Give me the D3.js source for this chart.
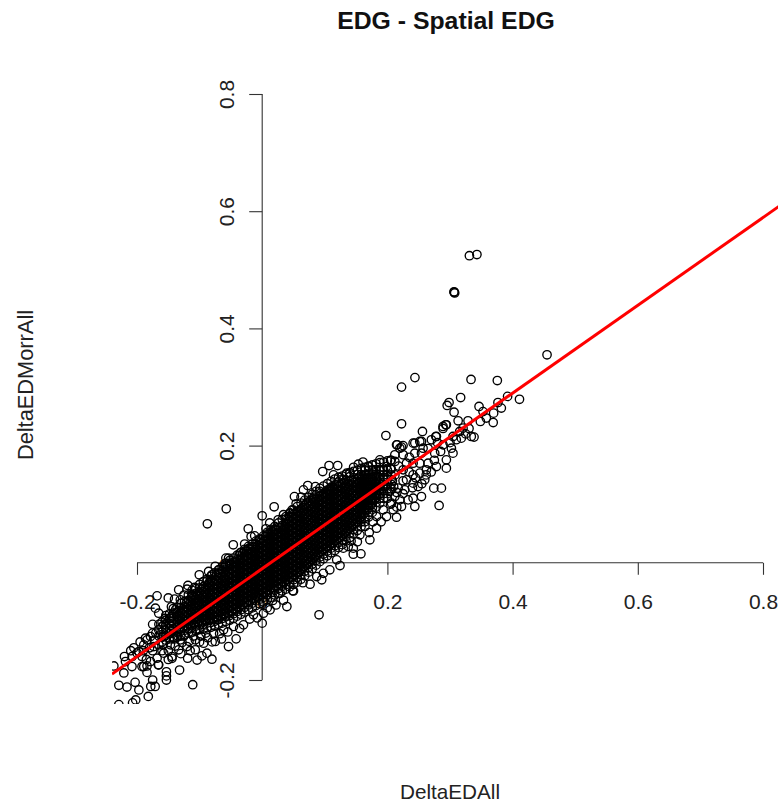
<!DOCTYPE html>
<html>
<head>
<meta charset="utf-8">
<script src="https://cdn.jsdelivr.net/npm/d3@7/dist/d3.min.js"></script>
<style>
  body { margin: 0; background: #fff; }
  svg { display: block; }
  text { font-family: "Liberation Sans", Arial, sans-serif; fill: #222; }
</style>
</head>
<body>
<div id="chart"></div>
<script>
const tickValues = [-0.2, 0, 0.2, 0.4, 0.6, 0.8];
const tickLabels = ["-0.2", "0", "0.2", "0.4", "0.6", "0.8"];
const lineCoef = [-0.01, 0.749]; // intercept, slope
const lineExtent = [-0.24, 0.83];

// thick part of the cloud, read per x column: [x, [y, y, ...]]
const denseColumns = [
  [-.160, [-.135,-.127,-.118,-.109,-.101]],
  [-.154, [-.132,-.124,-.115,-.106,-.098,-.090]],
  [-.148, [-.130,-.121,-.112,-.104,-.095,-.087]],
  [-.142, [-.128,-.120,-.112,-.103,-.094,-.086,-.078]],
  [-.136, [-.127,-.118,-.110,-.102,-.093,-.085,-.076]],
  [-.130, [-.125,-.117,-.109,-.100,-.092,-.084,-.076,-.069]],
  [-.124, [-.123,-.115,-.107,-.099,-.091,-.083,-.075,-.066]],
  [-.118, [-.120,-.112,-.104,-.096,-.088,-.080,-.072,-.064,-.055]],
  [-.112, [-.118,-.110,-.102,-.094,-.086,-.078,-.070,-.062,-.054,-.047]],
  [-.106, [-.116,-.108,-.100,-.092,-.084,-.076,-.068,-.060,-.052,-.044]],
  [-.100, [-.114,-.106,-.098,-.090,-.082,-.074,-.066,-.058,-.050,-.043,-.037]],
  [-.094, [-.113,-.105,-.097,-.089,-.081,-.073,-.065,-.057,-.049,-.041,-.032]],
  [-.088, [-.111,-.103,-.095,-.087,-.079,-.071,-.063,-.055,-.047,-.039,-.031,-.028]],
  [-.082, [-.110,-.102,-.094,-.086,-.078,-.070,-.062,-.054,-.046,-.038,-.030,-.023]],
  [-.076, [-.108,-.100,-.092,-.084,-.076,-.068,-.060,-.052,-.044,-.036,-.028,-.017]],
  [-.070, [-.105,-.097,-.089,-.081,-.073,-.065,-.057,-.049,-.041,-.033,-.025,-.017,-.012]],
  [-.064, [-.103,-.095,-.087,-.079,-.071,-.063,-.055,-.047,-.039,-.031,-.023,-.015,-.007]],
  [-.058, [-.100,-.092,-.084,-.076,-.068,-.060,-.052,-.044,-.036,-.028,-.020,-.012,-.004,-.001]],
  [-.052, [-.098,-.090,-.082,-.074,-.066,-.058,-.050,-.042,-.034,-.026,-.018,-.010,-.002,.004]],
  [-.046, [-.095,-.087,-.079,-.071,-.063,-.055,-.047,-.039,-.031,-.023,-.015,-.007,.001,.008]],
  [-.040, [-.091,-.083,-.075,-.067,-.059,-.051,-.043,-.035,-.027,-.019,-.011,-.003,.005,.013]],
  [-.034, [-.088,-.080,-.072,-.064,-.056,-.048,-.040,-.032,-.024,-.016,-.008,0,.008,.018]],
  [-.028, [-.084,-.076,-.068,-.060,-.052,-.044,-.036,-.028,-.020,-.012,-.004,.004,.012,.020,.023]],
  [-.022, [-.080,-.072,-.064,-.056,-.048,-.040,-.032,-.024,-.016,-.008,0,.008,.016,.024,.028]],
  [-.016, [-.077,-.069,-.061,-.053,-.045,-.037,-.029,-.021,-.013,-.005,.003,.011,.019,.027,.032]],
  [-.010, [-.073,-.065,-.057,-.049,-.041,-.033,-.025,-.017,-.009,-.001,.007,.015,.023,.031,.037]],
  [-.004, [-.070,-.062,-.054,-.046,-.038,-.030,-.022,-.014,-.006,.002,.010,.018,.026,.034,.041]],
  [.002, [-.067,-.059,-.051,-.043,-.035,-.027,-.019,-.011,-.003,.005,.013,.021,.029,.037,.046]],
  [.008, [-.063,-.055,-.047,-.039,-.031,-.023,-.015,-.007,.001,.009,.017,.025,.033,.041,.049,.052]],
  [.014, [-.059,-.051,-.043,-.035,-.027,-.019,-.011,-.003,.005,.013,.021,.029,.037,.045,.052,.057]],
  [.020, [-.055,-.047,-.039,-.031,-.023,-.015,-.007,.001,.009,.017,.025,.033,.041,.049,.057,.062]],
  [.026, [-.052,-.044,-.036,-.028,-.020,-.012,-.004,.004,.012,.020,.028,.036,.044,.052,.060,.068]],
  [.032, [-.048,-.040,-.032,-.024,-.016,-.008,0,.008,.016,.024,.032,.040,.048,.056,.064,.074]],
  [.038, [-.045,-.037,-.029,-.021,-.013,-.005,.003,.011,.019,.027,.035,.043,.051,.059,.067,.075,.079]],
  [.044, [-.041,-.033,-.025,-.017,-.009,-.001,.007,.015,.023,.031,.039,.047,.055,.063,.071,.079,.085]],
  [.050, [-.037,-.029,-.021,-.013,-.005,.003,.011,.019,.027,.035,.043,.051,.059,.067,.075,.083,.090]],
  [.056, [-.033,-.025,-.017,-.009,-.001,.007,.015,.023,.031,.039,.047,.055,.063,.071,.079,.087,.096]],
  [.062, [-.028,-.020,-.012,-.004,.004,.012,.020,.028,.036,.044,.052,.060,.068,.076,.084,.092,.102]],
  [.068, [-.022,-.014,-.006,.002,.010,.018,.026,.034,.042,.050,.058,.066,.074,.082,.090,.098,.107]],
  [.074, [-.016,-.008,0,.008,.016,.024,.032,.040,.048,.056,.064,.072,.080,.088,.096,.104,.112]],
  [.080, [-.010,-.002,.006,.014,.022,.030,.038,.046,.054,.062,.070,.078,.086,.094,.102,.110,.117]],
  [.086, [-.004,.004,.012,.020,.028,.036,.044,.052,.060,.068,.076,.084,.092,.100,.108,.116,.122]],
  [.092, [.002,.010,.018,.026,.034,.042,.050,.058,.066,.074,.082,.090,.098,.106,.114,.122,.127]],
  [.098, [.007,.015,.023,.031,.039,.047,.055,.063,.071,.079,.087,.095,.103,.111,.119,.131]],
  [.104, [.012,.020,.028,.036,.044,.052,.060,.068,.076,.084,.092,.100,.108,.116,.124,.135]],
  [.110, [.017,.025,.033,.041,.049,.057,.065,.073,.081,.089,.097,.105,.113,.121,.129,.139]],
  [.116, [.021,.029,.037,.045,.053,.061,.069,.077,.085,.093,.101,.109,.117,.125,.133,.143]],
  [.122, [.026,.034,.042,.050,.058,.066,.074,.082,.090,.098,.106,.114,.122,.130,.138,.146]],
  [.128, [.031,.039,.047,.055,.063,.071,.079,.087,.095,.103,.111,.119,.127,.135,.143,.148]],
  [.134, [.037,.045,.053,.061,.069,.077,.085,.093,.101,.109,.117,.125,.133,.141,.151]],
  [.140, [.043,.051,.059,.067,.075,.083,.091,.099,.107,.115,.123,.131,.139,.147,.154]],
  [.146, [.049,.057,.065,.073,.081,.089,.097,.105,.113,.121,.129,.137,.145,.156]],
  [.152, [.055,.063,.071,.079,.087,.095,.103,.111,.119,.127,.135,.143,.151,.158]],
  [.158, [.062,.070,.078,.086,.094,.102,.110,.118,.126,.134,.142,.150,.161]],
  [.164, [.070,.078,.086,.094,.102,.110,.118,.126,.134,.142,.150,.158,.163]],
  [.170, [.078,.086,.094,.102,.110,.118,.126,.134,.142,.150,.158,.165]],
  [.176, [.086,.094,.102,.110,.118,.126,.134,.142,.150,.158,.167]],
  [.182, [.095,.103,.111,.119,.127,.135,.143,.151,.159,.169]],
  [.188, [.102,.110,.118,.126,.134,.142,.150,.158,.171]],
  [.194, [.110,.118,.126,.134,.142,.150,.158,.172]],
  [.200, [.118,.126,.134,.142,.150,.158,.174]],
  [.206, [.126,.134,.142,.150,.160,.175]]
];

// same cloud, the rows between the ones above
const denseFill = [
  [-.145, [-.116,-.108,-.100,-.092]],
  [-.133, [-.113,-.105,-.097,-.089,-.081]],
  [-.127, [-.111,-.103,-.095,-.087,-.079]],
  [-.121, [-.108,-.100,-.092,-.084,-.076,-.068]],
  [-.115, [-.106,-.098,-.090,-.082,-.074,-.066]],
  [-.109, [-.104,-.096,-.088,-.080,-.072,-.064,-.056]],
  [-.103, [-.102,-.094,-.086,-.078,-.070,-.062,-.054]],
  [-.097, [-.101,-.093,-.085,-.077,-.069,-.061,-.053,-.045]],
  [-.091, [-.099,-.091,-.083,-.075,-.067,-.059,-.051,-.043]],
  [-.085, [-.098,-.090,-.082,-.074,-.066,-.058,-.050,-.042,-.034]],
  [-.079, [-.096,-.088,-.080,-.072,-.064,-.056,-.048,-.040,-.032]],
  [-.073, [-.093,-.085,-.077,-.069,-.061,-.053,-.045,-.037,-.029,-.021]],
  [-.067, [-.091,-.083,-.075,-.067,-.059,-.051,-.043,-.035,-.027,-.019]],
  [-.061, [-.088,-.080,-.072,-.064,-.056,-.048,-.040,-.032,-.024,-.016,-.008]],
  [-.055, [-.086,-.078,-.070,-.062,-.054,-.046,-.038,-.030,-.022,-.014,-.006]],
  [-.049, [-.083,-.075,-.067,-.059,-.051,-.043,-.035,-.027,-.019,-.011,-.003]],
  [-.043, [-.079,-.071,-.063,-.055,-.047,-.039,-.031,-.023,-.015,-.007,.001]],
  [-.037, [-.076,-.068,-.060,-.052,-.044,-.036,-.028,-.020,-.012,-.004,.004,.012]],
  [-.031, [-.072,-.064,-.056,-.048,-.040,-.032,-.024,-.016,-.008,0,.008,.016]],
  [-.025, [-.068,-.060,-.052,-.044,-.036,-.028,-.020,-.012,-.004,.004,.012,.020]],
  [-.019, [-.065,-.057,-.049,-.041,-.033,-.025,-.017,-.009,-.001,.007,.015,.023]],
  [-.013, [-.061,-.053,-.045,-.037,-.029,-.021,-.013,-.005,.003,.011,.019,.027]],
  [-.007, [-.058,-.050,-.042,-.034,-.026,-.018,-.010,-.002,.006,.014,.022,.030]],
  [-.001, [-.055,-.047,-.039,-.031,-.023,-.015,-.007,.001,.009,.017,.025,.033]],
  [.005, [-.051,-.043,-.035,-.027,-.019,-.011,-.003,.005,.013,.021,.029,.037,.045]],
  [.011, [-.047,-.039,-.031,-.023,-.015,-.007,.001,.009,.017,.025,.033,.041,.049]],
  [.017, [-.043,-.035,-.027,-.019,-.011,-.003,.005,.013,.021,.029,.037,.045,.053]],
  [.023, [-.040,-.032,-.024,-.016,-.008,0,.008,.016,.024,.032,.040,.048,.056]],
  [.029, [-.036,-.028,-.020,-.012,-.004,.004,.012,.020,.028,.036,.044,.052,.060]],
  [.035, [-.033,-.025,-.017,-.009,-.001,.007,.015,.023,.031,.039,.047,.055,.063]],
  [.041, [-.029,-.021,-.013,-.005,.003,.011,.019,.027,.035,.043,.051,.059,.067,.075]],
  [.047, [-.025,-.017,-.009,-.001,.007,.015,.023,.031,.039,.047,.055,.063,.071,.079]],
  [.053, [-.021,-.013,-.005,.003,.011,.019,.027,.035,.043,.051,.059,.067,.075,.083]],
  [.059, [-.016,-.008,0,.008,.016,.024,.032,.040,.048,.056,.064,.072,.080,.088]],
  [.065, [-.010,-.002,.006,.014,.022,.030,.038,.046,.054,.062,.070,.078,.086,.094]],
  [.071, [-.004,.004,.012,.020,.028,.036,.044,.052,.060,.068,.076,.084,.092,.100]],
  [.077, [.002,.010,.018,.026,.034,.042,.050,.058,.066,.074,.082,.090,.098,.106]],
  [.083, [.008,.016,.024,.032,.040,.048,.056,.064,.072,.080,.088,.096,.104,.112]],
  [.089, [.014,.022,.030,.038,.046,.054,.062,.070,.078,.086,.094,.102,.110]],
  [.095, [.019,.027,.035,.043,.051,.059,.067,.075,.083,.091,.099,.107,.115]],
  [.101, [.024,.032,.040,.048,.056,.064,.072,.080,.088,.096,.104,.112,.120]],
  [.107, [.029,.037,.045,.053,.061,.069,.077,.085,.093,.101,.109,.117,.125]],
  [.113, [.033,.041,.049,.057,.065,.073,.081,.089,.097,.105,.113,.121,.129]],
  [.119, [.038,.046,.054,.062,.070,.078,.086,.094,.102,.110,.118,.126,.134]],
  [.125, [.043,.051,.059,.067,.075,.083,.091,.099,.107,.115,.123,.131]],
  [.131, [.049,.057,.065,.073,.081,.089,.097,.105,.113,.121,.129,.137]],
  [.137, [.055,.063,.071,.079,.087,.095,.103,.111,.119,.127,.135]],
  [.143, [.061,.069,.077,.085,.093,.101,.109,.117,.125,.133,.141]],
  [.149, [.067,.075,.083,.091,.099,.107,.115,.123,.131,.139]],
  [.155, [.074,.082,.090,.098,.106,.114,.122,.130,.138,.146]],
  [.161, [.082,.090,.098,.106,.114,.122,.130,.138,.146]],
  [.167, [.090,.098,.106,.114,.122,.130,.138,.146]],
  [.173, [.098,.106,.114,.122,.130,.138,.146]],
  [.179, [.107,.115,.123,.131,.139,.147]],
  [.185, [.115,.123,.131,.139,.147]]
];

// separate rings around the cloud, read one by one: [x, y]
const edgePoints = [
  // far outliers and upper right
  [.455,.355],[.331,.524],[.343,.526],[.3065,.4625],[.3075,.4605],[.3065,.4615],[.244,.316],[.2226,.2998],
  [.3336,.3128],[.3756,.311],[.392,.284],[.411,.279],[.317,.282],[.2985,.2735],[.2955,.2685],[.3464,.2668],
  [.3766,.2735],[.382,.264],[.3697,.2554],[.3065,.257],[.3527,.258],[.313,.2423],[.3288,.2423],[.3485,.2412],
  [.358,.247],[.369,.2394],[.2226,.2372],[.1976,.2172],[.256,.2241],[.2932,.2355],[.2889,.2292],[.3384,.2145],
  [.3304,.2292],[.2157,.2014],[.2226,.1974],[.2438,.2043],[.2545,.207],[.2773,.2155],[.3155,.2241],
  [.2146,.2013],[.2199,.1956],[.2119,.1843],[.2252,.1843],[.2411,.2042],[.2517,.207],[.257,.1956],[.2438,.1871],
  [.2544,.1871],[.2703,.2099],[.2783,.2156],[.2889,.2326],[.2942,.2355],[.3048,.2156],[.3181,.2127],[.334,.2156],
  [.3208,.2298],[.2756,.1871],[.2889,.2013],[.3022,.1956],[.2942,.1757],[.3048,.1871],[.2783,.1643],[.2942,.1615],
  [.265,.17],[.2517,.17],[.2411,.17],[.2623,.1587],[.2517,.153],[.2305,.17],[.2252,.1587],[.2411,.1501],
  [.2597,.1416],[.2411,.1359],[.249,.1302],[.2305,.1416],[.2278,.1245],[.2411,.1103],[.2544,.1131],[.2331,.1074],
  [.2199,.1074],[.2225,.096],[.2066,.1018],[.2119,.1131],[.2172,.1274],[.2039,.1217],[.1933,.1587],
  [.2826,.0978],[.2741,.1274],[.2863,.1274],[.2438,.0961],
  [.205,.16],[.212,.15],[.218,.165],[.225,.14],[.208,.14],[.215,.12],[.235,.155],[.24,.128],[.225,.118],[.245,.145],
  [.255,.135],[.262,.15],[.27,.155],[.275,.175],[.285,.19],[.28,.205],[.265,.195],[.3,.205],[.31,.21],[.325,.22],
  [.235,.18],[.225,.2],[.205,.175],[.215,.095],[.2,.11],[.21,.13],
  // lower edge, middle
  [.0977,-.018],[.0871,-.0234],[.0951,-.029],[.0765,-.0365],[.05,-.048],[.0287,-.052],[.0394,-.0746],[.1243,-.0047],
  [.119,.005],[.1296,.025],[.1455,.025],[.1455,.0147],[.1577,.0153],[.172,.0392],[.171,.0517],[.1827,.059],
  [.1986,.079],[.2146,.0778],[.2092,.0904],[.1933,.0904],[.1827,.079],[.1641,.062],[.1561,.0477],[.1375,.0278],
  [.0908,-.0887],[.0487,-.0478],[.0169,-.0643],[.0126,-.0803],[0,-.103],[.002,-.086],[-.0139,-.0888],
  [.065,-.034],[.108,-.012],[.034,-.064],[.022,-.072],[.142,.037],[.152,.036],[.177,.07],[.19,.07],[.205,.1],
  // lower left
  [-.0299,-.1059],[-.0416,-.1298],[-.0538,-.1429],[-.0458,-.1087],[-.0617,-.1144],[-.0777,-.1201],[-.075,-.1343],
  [-.0936,-.1372],[-.1069,-.1315],[-.0883,-.1542],[-.0963,-.1588],[-.0803,-.1645],[-.1191,-.1628],[-.1069,-.1485],
  [-.1201,-.1429],[-.1334,-.1485],[-.1467,-.14],[-.144,-.16],[-.1573,-.1542],[-.1679,-.1628],[-.1785,-.1685],
  [-.1653,-.1741],[-.1892,-.177],[-.1839,-.1315],[-.1892,-.14],[-.1971,-.1514],[-.2078,-.1599],[-.2184,-.1685],
  [-.1732,-.1429],[-.1573,-.1258],[-.1308,-.1315],[-.1042,-.1144],[-.0724,-.0973],
  [-.237,-.176],[-.221,-.188],[-.229,-.209],[-.216,-.212],[-.203,-.204],[-.197,-.217],[-.182,-.228],[-.178,-.211],
  [-.171,-.211],[-.175,-.2],[-.153,-.186],[-.153,-.193],[-.153,-.2],[-.132,-.183],[-.111,-.208],[-.202,-.234],
  [-.207,-.239],[-.229,-.242],[-.192,-.177],[-.184,-.187],[-.184,-.176],[-.166,-.174],[-.104,-.166],[-.144,-.163],
  [-.208,-.177],[-.192,-.16],[-.2,-.154],
  [-.165,-.125],[-.172,-.132],[-.158,-.139],[-.148,-.128],[-.139,-.142],[-.128,-.136],[-.117,-.134],[-.098,-.125],
  [-.087,-.128],[-.068,-.121],[-.055,-.118],[-.036,-.112],[-.02,-.096],[-.008,-.094],[.008,-.077],
  [-.19,-.15],[-.18,-.145],[-.17,-.12],[-.175,-.15],[-.165,-.14],[-.16,-.15],[-.15,-.15],[-.14,-.13],[-.125,-.125],
  [-.135,-.125],[-.11,-.125],[-.1,-.135],[-.09,-.12],[-.08,-.135],[-.065,-.13],[-.15,-.165],[-.13,-.155],[-.115,-.15],
  [-.185,-.165],[-.175,-.12],[-.195,-.135],[-.205,-.145],[-.21,-.15],[-.22,-.16],
  // upper edge
  [-.1679,-.0564],[-.1706,-.0774],[-.1653,-.086],[-.1334,-.0461],[-.1308,-.0632],[-.1387,-.0803],[-.1467,-.0945],
  [-.1186,-.0387],[-.1005,-.0205],[-.0856,-.0148],[-.0686,-.012],[-.0803,-.0205],[-.0936,-.0404],[-.1122,-.0575],
  [-.0538,.0079],[-.0177,.0449],[-.0033,.0392],[-.0352,.0165],[-.1573,-.1059],[-.1653,-.1144],[-.1865,-.1286],
  [-.1785,-.1258],[.0446,.0847],[.0515,.113],[.0659,.1245],[.0728,.1319],[.0712,.1018],[.0818,.1074],[.0977,.116],
  [.103,.1188],[.0967,.1558],[.1068,.166],[.1206,.166],[.1535,.1683],[.135,.153],[.1402,.153],[.1296,.1416],
  [.1694,.1643],[.188,.1757],[.1986,.1643],[.2119,.1729],[.1774,.1587],[.188,.1587],
  [-.0876,.0666],[-.0574,.0922],[0,.0802],[-.0223,.058],[.0191,.0956],[.0255,.0734],[.0542,.1007],[-.0462,.0307],
  [.0207,.0563],[.0478,.0904],[-.028,.032],[-.012,.046],[.006,.058],[.012,.068],[.034,.082],[.062,.112],
  [.085,.13],[.114,.15],[.146,.163],[.161,.172],[-.075,-.006],[-.058,.008],[-.108,-.042],
  [-.165,-.105],[-.175,-.105],[-.155,-.095],[-.145,-.075],[-.15,-.06],[-.14,-.062],[-.125,-.055],[-.12,-.045]
];

const deltaEDAll = [];
const deltaEDMorrAll = [];
denseColumns.concat(denseFill).forEach(([cx, ys]) => ys.forEach((v) => { deltaEDAll.push(cx); deltaEDMorrAll.push(v); }));
edgePoints.forEach(([a, b]) => { deltaEDAll.push(a); deltaEDMorrAll.push(b); });

const width = 778, height = 804;
const x = d3.scaleLinear().domain([-0.2, 0.8]).range([137, 763]);
const y = d3.scaleLinear().domain([-0.2, 0.8]).range([680, 94]);

const svg = d3.select("#chart").append("svg").attr("width", width).attr("height", height);

svg.append("clipPath").attr("id", "plotClip")
  .append("rect").attr("x", 112).attr("y", 0).attr("width", width - 112).attr("height", 704);

// axes cross at zero like the original
const xAxis = svg.append("g").attr("transform", "translate(0," + y(0) + ")")
  .call(d3.axisBottom(x).tickValues(tickValues).tickFormat((d, i) => tickLabels[i]).tickSize(12).tickPadding(19));
const yAxis = svg.append("g").attr("transform", "translate(" + x(0) + ",0)")
  .call(d3.axisLeft(y).tickValues(tickValues).tickFormat((d, i) => tickLabels[i]).tickSize(13).tickSizeOuter(0));

[xAxis, yAxis].forEach((g) => {
  g.selectAll("path,line").attr("stroke", "#333").attr("stroke-width", 1.1);
  g.selectAll("text").style("font-family", '"Liberation Sans", Arial, sans-serif').style("font-size", "21px").attr("fill", "#222");
});
xAxis.select("path.domain").attr("d", "M" + x(-0.2) + ",0H" + x(0.8));
yAxis.select("path.domain").attr("d", "M0," + y(0.8) + "V" + y(-0.2));
yAxis.selectAll("text")
  .attr("transform", "translate(-28,0) rotate(-90)")
  .attr("x", 0).attr("y", 0).attr("dy", 0).attr("text-anchor", "middle");

const plot = svg.append("g").attr("clip-path", "url(#plotClip)");

plot.selectAll("circle").data(deltaEDAll).enter().append("circle")
  .attr("cx", (d) => x(d))
  .attr("cy", (d, i) => y(deltaEDMorrAll[i]))
  .attr("r", 4.2)
  .attr("fill", "none")
  .attr("stroke", "#000")
  .attr("stroke-width", 1.35);

plot.append("line")
  .attr("x1", x(lineExtent[0])).attr("y1", y(lineCoef[0] + lineCoef[1] * lineExtent[0]))
  .attr("x2", x(lineExtent[1])).attr("y2", y(lineCoef[0] + lineCoef[1] * lineExtent[1]))
  .attr("stroke", "#f00").attr("stroke-width", 3);

svg.append("text").attr("x", 446).attr("y", 28.5).attr("text-anchor", "middle")
  .attr("font-weight", "bold").attr("font-size", 24.8).style("fill", "#111").text("EDG - Spatial EDG");
svg.append("text").attr("x", 450).attr("y", 799).attr("text-anchor", "middle")
  .attr("font-size", 20.7).text("DeltaEDAll");
svg.append("text").attr("transform", "translate(33,385) rotate(-90)").attr("text-anchor", "middle")
  .attr("font-size", 21.8).text("DeltaEDMorrAll");
</script>
</body>
</html>
